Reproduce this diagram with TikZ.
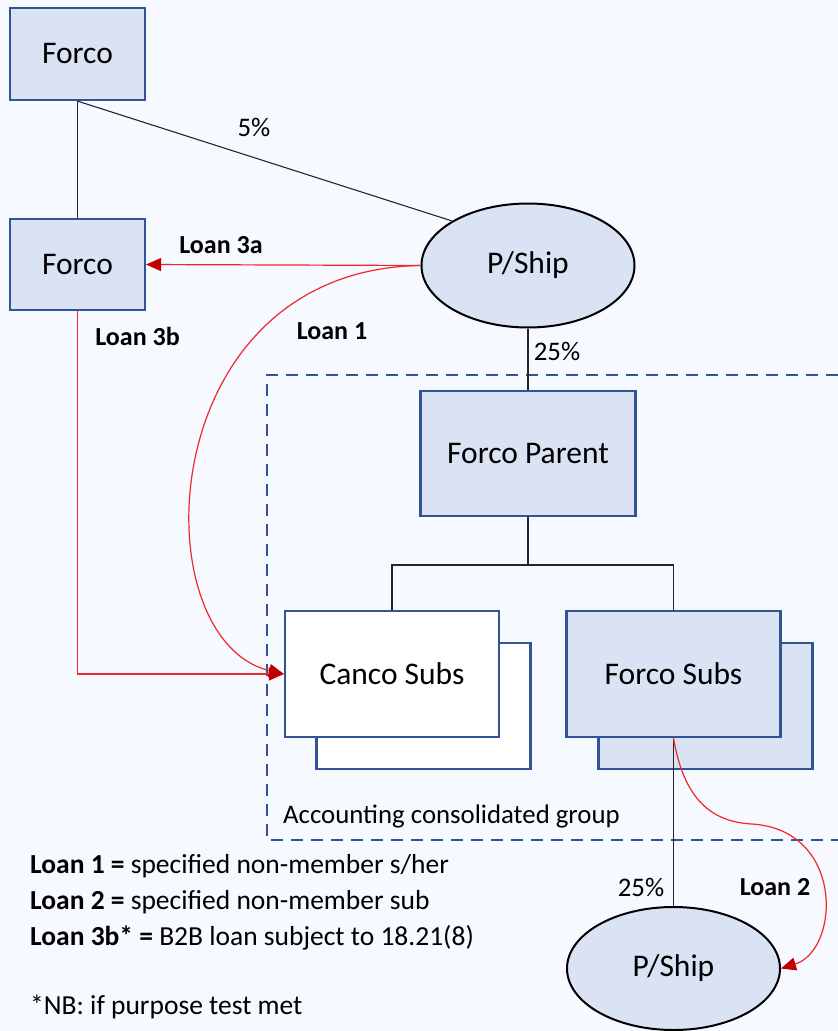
\documentclass[tikz,border=0pt]{standalone}
\usepackage{fontspec}
\setmainfont{Carlito}
\usetikzlibrary{arrows.meta,shapes.geometric}
\definecolor{bgc}{RGB}{246,249,255}
\definecolor{boxfill}{RGB}{218,227,243}
\definecolor{boxline}{RGB}{47,85,151}
\definecolor{loanred}{RGB}{240,40,40}
\definecolor{tipred}{RGB}{192,0,0}
\tikzset{
  ent/.style={draw=boxline, line width=2.2pt, fill=boxfill, inner sep=0pt, font=\fontsize{31.5}{36}\selectfont},
  wbox/.style={ent, fill=white},
  pship/.style={ellipse, draw=black, line width=2pt, fill=boxfill, inner sep=0pt, minimum width=213pt, minimum height=124pt, font=\fontsize{31.5}{36}\selectfont},
  own/.style={draw=black!85, line width=1.1pt},
  loan/.style={draw=loanred, line width=1.2pt, -{Triangle[length=15pt,width=13pt,color=tipred]}},
  lbl/.style={font=\fontsize{26}{30}\selectfont\bfseries, inner sep=0pt},
  pct/.style={font=\fontsize{26.8}{30}\selectfont, inner sep=0pt},
  legend/.style={font=\fontsize{27.5}{33}\selectfont, inner sep=0pt, anchor=base west},
  grp/.style={draw=boxline, line width=2pt, dash pattern=on 12pt off 8pt}
}
\begin{document}
\begin{tikzpicture}[x=1pt,y=-1pt]
\fill[bgc] (0,0) rectangle (838,1031);
\useasboundingbox (0,0) rectangle (838,1031);
% group boundary
\draw[grp] (838,375) -- (267,375) -- (267,840) -- (838,840);
\node[pct, anchor=base west] (grpl) at (283,823) {Accounting consolidated group};
% nodes
\node[ent, minimum width=135pt, minimum height=92pt] (fa) at (77.5,54) {Forco};
\node[ent, minimum width=135pt, minimum height=91pt] (fb) at (77.5,264.5) {Forco};
\node[pship] (ps) at (528,265.5) {P/Ship};
\node[ent, minimum width=215pt, minimum height=125pt] (pp) at (528,453.5) {Forco Parent};
\node[wbox, minimum width=214pt, minimum height=126pt] (cb) at (423.5,706) {};
\node[wbox, minimum width=214pt, minimum height=126pt] (cf) at (392,674) {Canco Subs};
\node[ent, minimum width=214pt, minimum height=126pt] (sb) at (705.5,706) {};
\node[ent, minimum width=214pt, minimum height=126pt] (sf) at (673.5,674) {Forco Subs};
\node[pship, minimum height=123pt] (ps2) at (673.5,968.5) {P/Ship};
% ownership lines
\draw[own] (fa.south) -- (fb.north);
\draw[own] (fa.south) -- (ps.north west);
\draw[own] (ps.south) -- (pp.north);
\coordinate (j) at (528,565);
\draw[own] (pp.south) -- (j);
\draw[own] (cf.north) |- (j) -| (sf.north);
\draw[own] (sf.south) -- (ps2.north);
% ownership labels
\node[pct] (p5) at (254,127) {5\%};
\node[pct] (p25a) at (557,351) {25\%};
\node[pct] (p25b) at (641,887) {25\%};
% loans
\draw[loan] (ps.west) -- (fb.east);
\draw[loan] (ps.west) .. controls (150,270) and (140,640) .. (cf.west);
\draw[loan] (fb.south) |- (cf.west);
\draw[loan] (sf.south) .. controls (684,800) and (712,822) .. (752,824)
   .. controls (845,830) and (840,950) .. (ps2.east);
% loan labels
\node[lbl] (l3a) at (221,245) {Loan 3a};
\node[lbl] (l3b) at (137.5,336) {Loan 3b};
\node[lbl] (l1) at (332,331) {Loan 1};
\node[lbl] (l2) at (775,887) {Loan 2};
% legend
\node[legend] (lg1) at (30,873) {\textbf{Loan 1 =} specified non-member s/her};
\node[legend] (lg2) at (30,909) {\textbf{Loan 2 =} specified non-member sub};
\node[legend] (lg3) at (30,945) {\textbf{Loan 3b* =} B2B loan subject to 18.21(8)};
\node[legend] (lg4) at (30,1014) {*NB: if purpose test met};
\end{tikzpicture}
\end{document}
